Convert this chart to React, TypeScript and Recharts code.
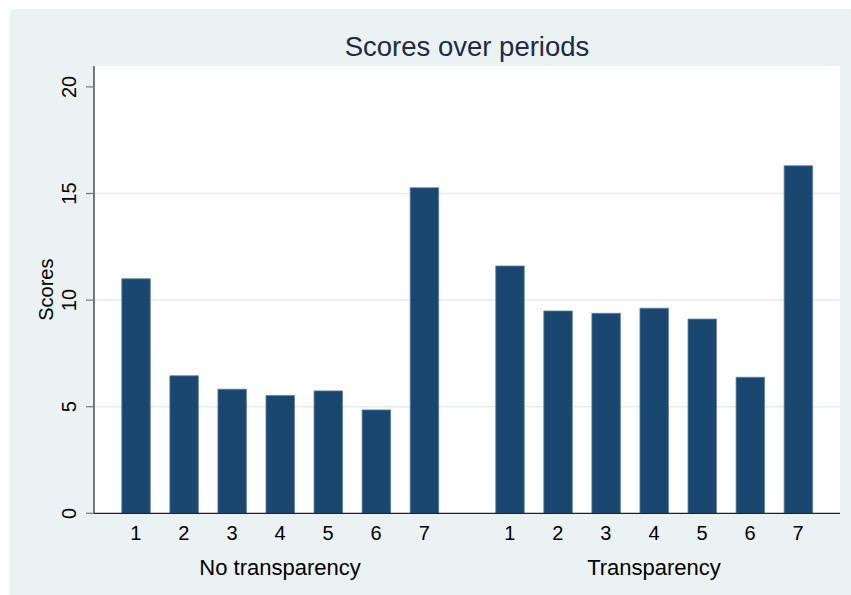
import React from 'react';
import { BarChart, Bar, XAxis, YAxis, CartesianGrid } from 'recharts';

const periods = ['1', '2', '3', '4', '5', '6', '7'];
const groups = ['No transparency', 'Transparency'];
const noTransparency = [11.0, 6.45, 5.82, 5.53, 5.74, 4.85, 15.27];
const transparency = [11.6, 9.49, 9.38, 9.62, 9.11, 6.38, 16.3];
const yTicks = [0, 5, 10, 15, 20];
const gridValues = [5, 10, 15];

const GROUP_GAP = 0.78;
const groupSeries = [noTransparency, transparency];

const data = groupSeries.flatMap((vals, g) =>
  vals.map((v, i) => ({
    pos: i + 1 + g * (periods.length + GROUP_GAP),
    label: periods[i],
    group: groups[g],
    score: v,
  }))
);
const periodTicks = data.map((d) => d.pos);
const labelByPos: Record<string, string> = {};
data.forEach((d) => (labelByPos[d.pos.toFixed(3)] = d.label));
const groupCenters = groups.map((_, g) => (1 + periods.length) / 2 + g * (periods.length + GROUP_GAP));
const groupByPos: Record<string, string> = {};
groupCenters.forEach((c, g) => (groupByPos[c.toFixed(3)] = groups[g]));

const FONT = '"Liberation Sans", Arial, Helvetica, sans-serif';
const BAR = '#1A476F';

const PeriodTick = (props: any) => {
  const { x, y, payload } = props;
  return (
    <text x={x} y={y + 24.5} textAnchor="middle" fontFamily={FONT} fontSize={20} fill="#000">
      {labelByPos[Number(payload.value).toFixed(3)]}
    </text>
  );
};

const GroupTick = (props: any) => {
  const { x, y, payload } = props;
  return (
    <text x={x} y={y + 19.5} textAnchor="middle" fontFamily={FONT} fontSize={22} fill="#000">
      {groupByPos[Number(payload.value).toFixed(3)]}
    </text>
  );
};

const YTick = (props: any) => {
  const { y, payload } = props;
  const tx = 65.7;
  return (
    <text
      x={tx}
      y={y}
      transform={`rotate(-90, ${tx}, ${y})`}
      textAnchor="middle"
      fontFamily={FONT}
      fontSize={20}
      fill="#000"
    >
      {payload.value}
    </text>
  );
};

const YLabel = (props: any) => {
  const vb = props.viewBox || { x: 0, y: 57, width: 84, height: 447 };
  const cx = 43;
  const cy = vb.y + vb.height / 2;
  return (
    <text
      x={cx}
      y={cy}
      transform={`rotate(-90, ${cx}, ${cy})`}
      textAnchor="middle"
      fontFamily={FONT}
      fontSize={20}
      fill="#000"
    >
      Scores
    </text>
  );
};

export default function App() {
  return (
    <div style={{ position: 'absolute', left: 0, top: 0, width: 851, height: 595, background: '#fff' }}>
      <div
        style={{
          position: 'absolute',
          left: 10,
          top: 9,
          width: 841,
          height: 586,
          background: '#EAF2F3',
        }}
      >
        <div
          style={{
            position: 'absolute',
            left: 0,
            width: 914,
            top: 21,
            textAlign: 'center',
            fontFamily: FONT,
            fontSize: 27.5,
            lineHeight: '34px',
            color: '#1E2A4C',
            whiteSpace: 'nowrap',
          }}
        >
          Scores over periods
        </div>
        <BarChart
          width={841}
          height={586}
          data={data}
          margin={{ top: 57, right: 11, bottom: 0, left: 0 }}
        >
          <CartesianGrid
            fill="#ffffff"
            vertical={false}
            horizontalValues={gridValues}
            stroke="#E6EDEF"
            strokeWidth={1.5}
          />
          <XAxis
            dataKey="pos"
            type="number"
            domain={[0.13, 15.65]}
            ticks={periodTicks}
            interval={0}
            tickLine={false}
            tickSize={0}
            axisLine={{ stroke: '#222', strokeWidth: 1.2 }}
            height={40}
            tick={<PeriodTick />}
          />
          <XAxis
            xAxisId="grp"
            dataKey="pos"
            type="number"
            domain={[0.13, 15.65]}
            ticks={groupCenters}
            interval={0}
            tickLine={false}
            tickSize={0}
            axisLine={false}
            height={41.7}
            tick={<GroupTick />}
          />
          <YAxis
            type="number"
            domain={[0, 20.98]}
            ticks={yTicks}
            interval={0}
            width={84}
            tickSize={8}
            tickLine={{ stroke: '#777', strokeWidth: 1.2 }}
            axisLine={{ stroke: '#222', strokeWidth: 1.2 }}
            tick={<YTick />}
            label={<YLabel />}
          />
          <Bar
            dataKey="score"
            fill={BAR}
            stroke="#5F7FA3"
            strokeWidth={0.8}
            barSize={28.5}
            isAnimationActive={false}
          />
        </BarChart>
      </div>
    </div>
  );
}
